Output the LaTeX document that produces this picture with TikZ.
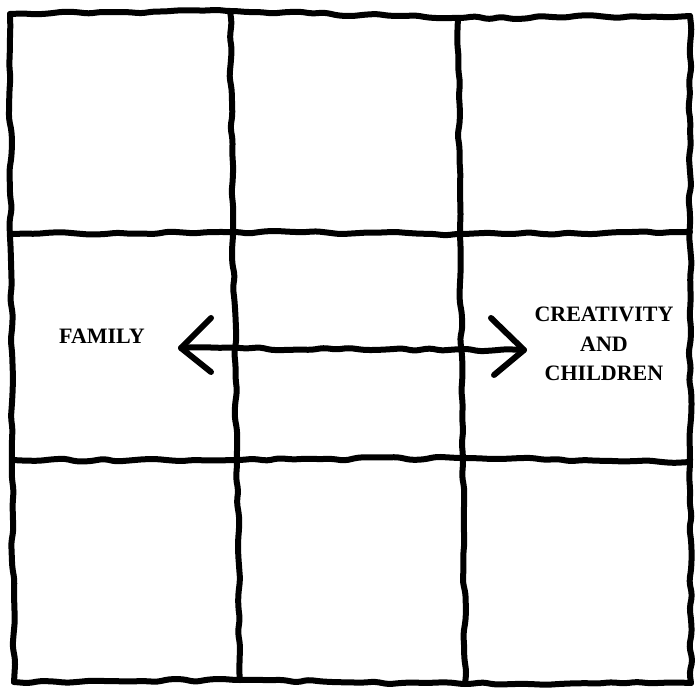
\documentclass[tikz,border=0pt]{standalone}
\usepackage{fontspec}
\setmainfont{Liberation Serif}
\usetikzlibrary{decorations.pathmorphing}
\begin{document}
\begin{tikzpicture}[x=1pt,y=-1pt,
  wob/.style={line width=6pt,line cap=round,line join=round,
    decorate,decoration={random steps,segment length=13pt,amplitude=1.6pt},rounded corners=4pt},
  arm/.style={line width=6pt,line cap=round,line join=round},
  lbl/.style={font=\bfseries\fontsize{22}{29.5}\selectfont,align=center,inner sep=0pt}]
\pgfmathsetseed{7}
\fill[white] (0,0) rectangle (696,692);
\useasboundingbox (0,0) rectangle (696,692);
% outer border
\draw[wob] (10,14) -- (230,11) -- (458,18) -- (690,16);
\draw[wob] (10,14) -- (12,460) -- (14,682);
\draw[wob] (690,16) -- (690,460) -- (691,683);
\draw[wob] (14,682) -- (240,680) -- (465,684) -- (691,683);
% inner verticals
\draw[wob] (230,11) -- (233,232) -- (237,460) -- (240,680);
\draw[wob] (458,18) -- (460,232) -- (463,460) -- (465,684);
% inner horizontals
\draw[wob] (12,234) -- (233,232) -- (460,234) -- (690,232);
\draw[wob] (12,460) -- (237,460) -- (463,458) -- (690,462);
% labels
\node[lbl] (family) at (102,336) {FAMILY};
\node[lbl] (creat) at (604,344) {CREATIVITY\\AND\\CHILDREN};
% arrow
\coordinate (lt) at (181,348);
\coordinate (rt) at (524,350);
\draw[wob] (lt) -- (rt);
\draw[arm] (211,318) -- (lt) -- (211,372);
\draw[arm] (491,318) -- (rt) -- (494,375);
\end{tikzpicture}
\end{document}
